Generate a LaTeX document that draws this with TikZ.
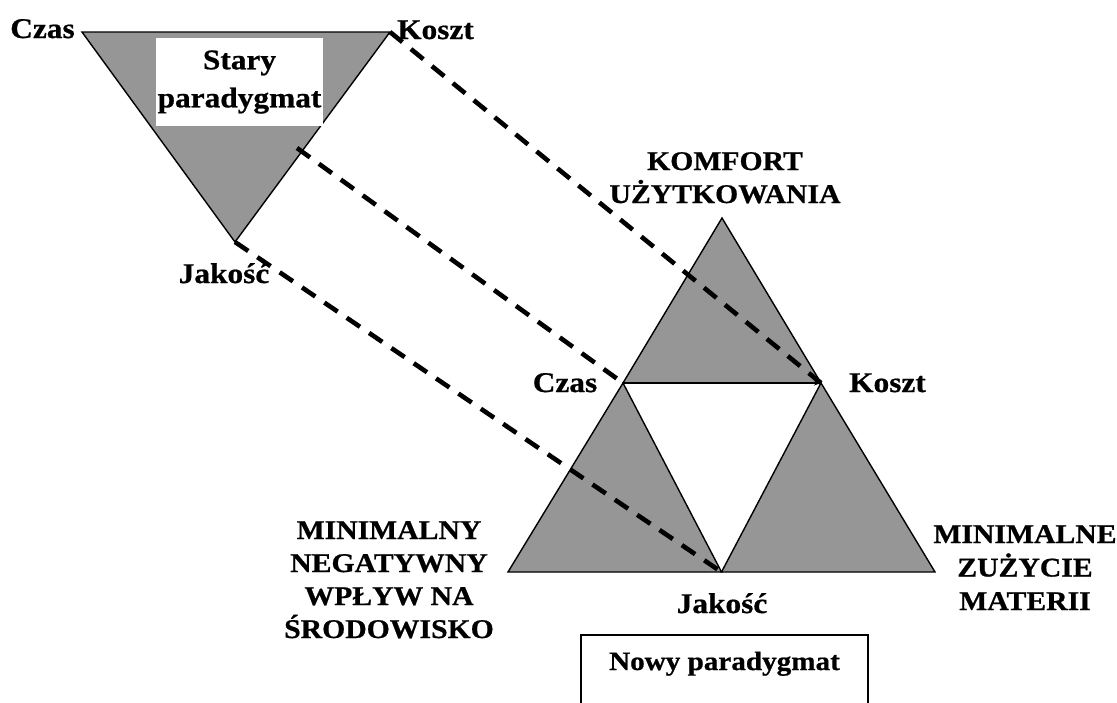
\documentclass[tikz,border=0pt]{standalone}
\usepackage{fontspec}
\setmainfont{Liberation Serif}[FakeStretch=1.1, BoldFeatures={FakeBold=0.7}]
\usetikzlibrary{arrows.meta}
\definecolor{trigray}{RGB}{150,150,150}
\begin{document}
\begin{tikzpicture}[x=1pt,y=-1pt,
  lab/.style={font=\fontsize{27}{33}\selectfont\bfseries, inner sep=0pt, align=center, anchor=base},
  biglab/.style={lab, font=\fontsize{28.5}{33}\selectfont\bfseries},
  trishape/.style={fill=trigray, draw=black, line width=1.4pt, line join=miter},
  link/.style={draw=black, line width=4.6pt, dash pattern=on 16pt off 11pt}]
\useasboundingbox (0,0) rectangle (1117,702);
\clip (0,0) rectangle (1117,702);
% old triangle vertices
\coordinate (oC) at (82,32);
\coordinate (oK) at (390,32);
\coordinate (oJ) at (235,242);
\coordinate (s2) at (297,148);
% new triangle vertices
\coordinate (A) at (722,218);
\coordinate (Cz) at (623,383);
\coordinate (Ko) at (821,383);
\coordinate (BL) at (508,572);
\coordinate (J) at (721.5,572);
\coordinate (BR) at (935,572);

% old triangle
\filldraw[trishape] (oC) -- (oK) -- (oJ) -- cycle;
\node[fill=white, inner sep=0pt, minimum width=167pt, minimum height=88pt,
      font=\fontsize{28.5}{38}\selectfont\bfseries, align=center] (stary) at (239.5,82) {Stary\\paradygmat};

% new triangles
\fill[trigray] (A) -- (Cz) -- (Ko) -- cycle;
\draw[line width=1.4pt, line join=miter] (Cz) -- (A) -- (Ko);
\draw[line width=1.4pt, -{Stealth[length=7pt,width=5pt]}] (Cz) -- (Ko);
\filldraw[trishape] (BL) -- (Cz) -- (J) -- cycle;
\filldraw[trishape] (Ko) -- (J) -- (BR) -- cycle;

% dashed connectors
\draw[link] (oK) -- (Ko);
\draw[link] (s2) -- (Cz);
\draw[link] (oJ) -- (J);

% labels (multi-line labels anchored at the baseline of their last line)
\node[biglab] (oCzas) at (42.5,38) {Czas};
\node[biglab] (oKoszt) at (435.5,39) {Koszt};
\node[biglab] (oJakosc) at (224,283) {Jakość};
\node[lab] (komfort) at (725,203) {KOMFORT\\UŻYTKOWANIA};
\node[biglab] (nCzas) at (565,392) {Czas};
\node[biglab] (nKoszt) at (887.5,392) {Koszt};
\node[lab] (minneg) at (389,638) {MINIMALNY\\NEGATYWNY\\WPŁYW NA\\ŚRODOWISKO};
\node[lab, font=\fontsize{27}{33.5}\selectfont\bfseries] (minzu) at (1025,610) {MINIMALNE\\ZUŻYCIE\\MATERII};
\node[biglab] (nJakosc) at (722,613) {Jakość};
\node[draw=black, line width=1.4pt, font=\fontsize{26.5}{33}\selectfont\bfseries,
      anchor=base, inner xsep=0pt, inner ysep=10pt, minimum width=287pt,
      text height=25pt, text depth=50pt] (nowy) at (724.5,670) {Nowy paradygmat};
\end{tikzpicture}
\end{document}
